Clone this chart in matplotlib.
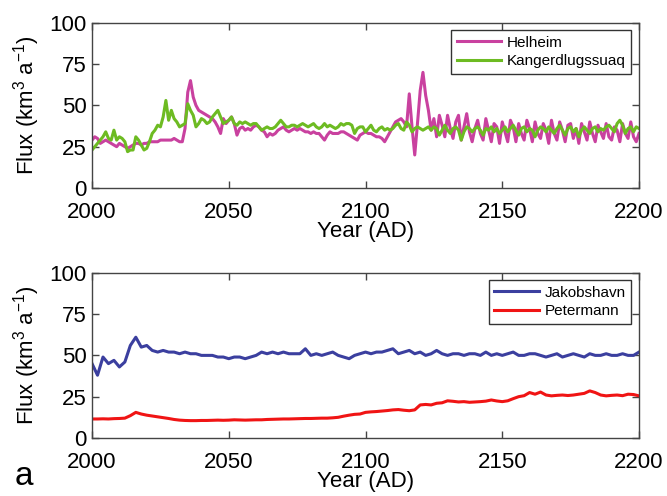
"""Ice flux projections 2000-2200 for four Greenland outlet glaciers.

  python3 plot.py   ->  out.png
"""
import matplotlib
matplotlib.use("Agg")
import matplotlib.pyplot as plt
import numpy as np

# annual values, 2000..2200
years = np.arange(2000, 2201)
helheim = [
    29, 31, 30, 27, 28, 29, 28, 27, 26, 25,
    27, 26, 25, 24, 25, 26, 27, 27, 26, 27,
    27, 28, 28, 28, 28, 29, 29, 29, 29, 29,
    30, 29, 28, 28, 36, 58, 65, 55, 50, 47,
    46, 45, 44, 43, 42, 40, 37, 33, 42, 39,
    41, 43, 39, 32, 36, 37, 35, 36, 35, 37,
    38, 37, 35, 34, 31, 33, 32, 33, 35, 36,
    37, 35, 34, 35, 36, 35, 36, 35, 34, 34,
    33, 34, 33, 33, 31, 29, 32, 34, 33, 33,
    33, 34, 34, 33, 32, 31, 30, 29, 32, 33,
    34, 33, 33, 32, 31, 31, 30, 28, 31, 34,
    37, 40, 41, 42, 40, 37, 57, 37, 20, 39,
    59, 70, 56, 47, 35, 42, 31, 44, 38, 31,
    44, 36, 30, 40, 44, 29, 37, 45, 34, 28,
    36, 41, 33, 29, 42, 35, 28, 39, 37, 27,
    40, 34, 28, 41, 37, 28, 39, 33, 29, 41,
    36, 28, 40, 33, 30, 39, 35, 27, 41, 33,
    29, 40, 35, 28, 38, 39, 30, 36, 27, 39,
    34, 29, 40, 33, 28, 38, 34, 30, 39, 31,
    29, 37, 35, 28, 39, 33, 30, 40, 31, 28,
    33]
kanger = [
    23, 25, 27, 29, 31, 34, 30, 29, 35, 29,
    31, 30, 28, 22, 23, 23, 31, 29, 26, 23,
    24, 28, 33, 35, 38, 37, 43, 53, 41, 47,
    42, 40, 37, 38, 39, 51, 47, 44, 37, 39,
    42, 41, 39, 40, 43, 45, 47, 43, 39, 40,
    41, 43, 39, 38, 40, 39, 40, 39, 38, 39,
    39, 37, 35, 36, 37, 36, 36, 37, 39, 41,
    39, 37, 37, 38, 38, 37, 38, 39, 38, 37,
    38, 39, 37, 36, 37, 39, 37, 38, 37, 36,
    37, 39, 38, 39, 39, 38, 33, 36, 37, 37,
    34, 36, 38, 35, 34, 36, 37, 35, 36, 35,
    36, 38, 39, 36, 35, 40, 38, 34, 36, 37,
    36, 35, 36, 37, 35, 37, 36, 32, 35, 38,
    35, 33, 36, 37, 35, 29, 34, 37, 36, 34,
    36, 37, 35, 32, 36, 35, 37, 34, 36, 33,
    35, 37, 34, 36, 38, 35, 32, 36, 37, 34,
    36, 35, 31, 35, 37, 36, 34, 37, 35, 33,
    36, 38, 35, 32, 36, 37, 34, 36, 31, 35,
    37, 35, 33, 36, 37, 34, 36, 35, 37, 38,
    36, 34, 39, 41, 38, 33, 36, 37, 34, 37,
    36]

# every second year, 2000..2200
years2 = np.arange(2000, 2201, 2)
jakobshavn = [
    45, 38, 49, 45, 47, 43, 46, 56, 61, 55,
    56, 53, 52, 53, 52, 52, 51, 52, 51, 51,
    50, 50, 50, 49, 49, 48, 49, 49, 48, 49,
    50, 52, 51, 52, 51, 52, 51, 51, 51, 54,
    50, 51, 50, 51, 52, 50, 49, 48, 50, 51,
    52, 51, 52, 52, 53, 54, 51, 52, 53, 51,
    52, 50, 51, 53, 51, 50, 51, 51, 50, 51,
    51, 50, 52, 50, 51, 50, 51, 52, 50, 50,
    51, 51, 50, 49, 50, 51, 49, 50, 51, 50,
    49, 51, 50, 50, 51, 50, 50, 51, 50, 50,
    52]
petermann = [
    11.5, 11.5, 11.6, 11.5, 11.7, 11.8, 12.0, 13.5, 15.5, 14.5,
    13.8, 13.3, 12.8, 12.3, 11.8, 11.2, 10.8, 10.6, 10.5, 10.5,
    10.6, 10.6, 10.7, 10.8, 10.7, 10.8, 11.0, 10.9, 10.8, 10.9,
    11.0, 11.0, 11.2, 11.3, 11.4, 11.5, 11.5, 11.6, 11.7, 11.8,
    11.8, 11.9, 12.0, 12.0, 12.2, 12.5, 13.2, 13.8, 14.3, 14.5,
    15.5, 15.8, 16.0, 16.3, 16.6, 17.0, 17.2, 16.8, 16.5, 17.0,
    20.0, 20.3, 20.0, 21.0, 21.3, 22.5, 22.2, 21.8, 22.0, 21.6,
    21.8, 22.0, 22.3, 23.0, 22.4, 22.0, 22.5, 23.8, 25.0, 25.6,
    27.5, 26.5, 27.8, 26.0, 25.5, 25.8, 26.0, 25.7, 26.0, 26.5,
    27.0, 28.5, 27.5, 26.0, 25.5, 25.8, 26.0, 25.6, 26.5, 26.3,
    25.5]

xticks = [2000, 2050, 2100, 2150, 2200]
yticks = [0, 25, 50, 75, 100]

plt.rcParams["font.family"] = ["Liberation Sans", "DejaVu Sans"]
plt.rcParams["mathtext.default"] = "regular"


def style_axes(ax):
    ax.set_xlim(2000, 2200)
    ax.set_ylim(0, 100)
    ax.set_xticks(xticks)
    ax.set_yticks(yticks)
    ax.tick_params(direction="in", top=True, right=True, length=5,
                   width=1, labelsize=16, color="#444444")
    ax.tick_params(axis="x", pad=10)
    ax.tick_params(axis="y", pad=4)
    for s in ax.spines.values():
        s.set_color("#444444")
        s.set_linewidth(1)
    ax.set_xlabel("Year (AD)", fontsize=16, labelpad=-1)
    ax.set_ylabel("Flux (km$^3$ a$^{-1}$)", fontsize=16, labelpad=5)
    ax.legend(loc="upper right", fontsize=11, fancybox=False,
              edgecolor="#333333", framealpha=1, handlelength=2.9,
              handletextpad=0.4, labelspacing=0.3, borderpad=0.35,
              borderaxespad=0.5)
    ax.get_legend().get_frame().set_linewidth(1)


fig = plt.figure(figsize=(6.67, 4.96), dpi=100)
ax1 = fig.add_axes([0.138, 0.621, 0.820, 0.333])
ax2 = fig.add_axes([0.138, 0.117, 0.820, 0.333])

ax1.plot(years, helheim, color="#c9419f", lw=2.2, label="Helheim")
ax1.plot(years, kanger, color="#6dbb22", lw=2.2, label="Kangerdlugssuaq")
style_axes(ax1)

ax2.plot(years2, jakobshavn, color="#3b3f9f", lw=2.2, label="Jakobshavn")
ax2.plot(years2, petermann, color="#f01414", lw=2.2, label="Petermann")
style_axes(ax2)

fig.text(0.022, 0.022, "a", fontsize=24, va="baseline", ha="left")

fig.savefig("out.png", dpi=100)
plt.close(fig)
